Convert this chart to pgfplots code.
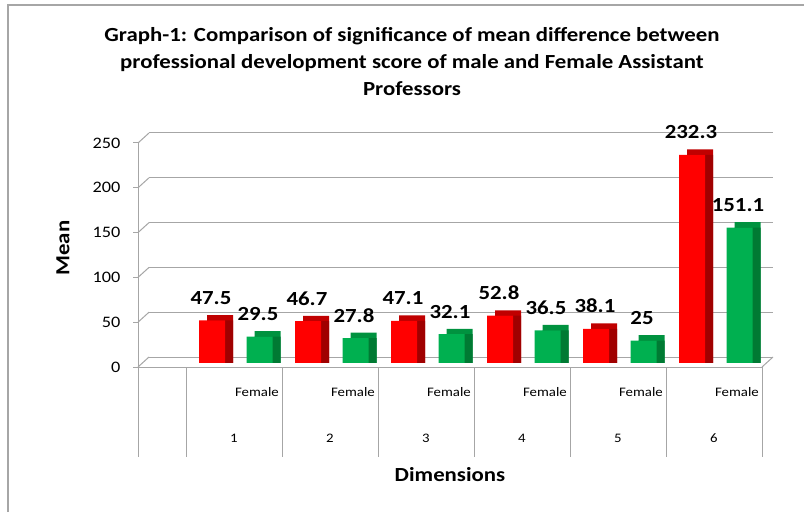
\documentclass[border=0pt]{standalone}
\usepackage{fontspec}
\setmainfont{Carlito}[FakeStretch=1.14]
\usepackage{pgfplots}
\pgfplotsset{compat=1.18}
\usepackage{pgfplotstable}
\definecolor{redF}{HTML}{FF0000}
\definecolor{redT}{HTML}{C00000}
\definecolor{redS}{HTML}{A00000}
\definecolor{grnF}{HTML}{00B050}
\definecolor{grnT}{HTML}{00923F}
\definecolor{grnS}{HTML}{007A33}
\definecolor{gridc}{HTML}{A6A6A6}
\pgfplotstableread{
dim male female
1 47.5 29.5
2 46.7 27.8
3 47.1 32.1
4 52.8 36.5
5 38.1 25
6 232.3 151.1
}\data
\begin{document}
\begin{tikzpicture}[x=1pt,y=1pt]
\useasboundingbox (0,0) rectangle (804,512);
\fill[white] (0,0) rectangle (804,512);
\draw[gridc, line width=1.5pt] (8,0) -- (8,507) -- (804,507);
\node[font=\bfseries\fontsize{20}{20}\selectfont, anchor=base, inner sep=0] at (412,470) {Graph-1: Comparison of significance of mean difference between};
\node[font=\bfseries\fontsize{20}{20}\selectfont, anchor=base, inner sep=0] at (412,443) {professional development score of male and Female Assistant};
\node[font=\bfseries\fontsize{20}{20}\selectfont, anchor=base, inner sep=0] at (412,416) {Professors};
% back wall
\begin{axis}[at={(149pt,155pt)}, anchor=south west, scale only axis,
  width=624pt, height=224pt, xmin=0, xmax=6.5, ymin=0, ymax=250,
  axis line style={draw=none}, xtick=\empty, ytick={0,50,...,250},
  yticklabels={}, major tick length=0pt, ymajorgrids,
  grid style={gridc, line width=1pt}]
\end{axis}
% front
\begin{axis}[at={(138pt,145pt)}, anchor=south west, scale only axis,
  width=624pt, height=224pt, xmin=0, xmax=6.5, ymin=0, ymax=250,
  clip=false, axis x line*=bottom, axis y line*=left,
  axis line style={gridc, line width=1pt, -},
  xtick=\empty, ytick={0,50,...,250}, tick align=outside,
  major tick length=5pt, tick style={gridc, line width=1pt},
  yticklabel style={font=\fontsize{16}{16}\selectfont, xshift=-9pt},
  /pgf/number format/assume math mode=true]
\pgfplotsinvokeforeach{0,50,100,150,200,250}{\draw[gridc, line width=1pt] (axis cs:0,#1) -- ++(11pt,10pt);}
\draw[gridc, line width=1pt] (axis cs:6.5,0) -- ++(11pt,10pt);
\pgfplotsinvokeforeach{0,0.5,1.5,2.5,3.5,4.5,5.5,6.5}{\draw[gridc, line width=1pt] (axis cs:#1,0) -- ++(0pt,-90pt);}
\pgfplotsinvokeforeach{1,2,3,4,5,6}{
  \node[anchor=base, font=\fontsize{13}{13}\selectfont, inner sep=0] at ([yshift=-75pt]axis cs:#1,0) {#1};
  \node[anchor=base east, font=\fontsize{13}{13}\selectfont, inner sep=0] at ([xshift=45pt,yshift=-29pt]axis cs:#1,0) {Female};
}
\end{axis}
% bars at mid depth
\begin{axis}[at={(143pt,149pt)}, anchor=south west, scale only axis,
  width=624pt, height=224pt, xmin=0, xmax=6.5, ymin=0, ymax=250,
  clip=false, hide axis,
  /pgf/number format/assume math mode=true,
  every node near coord/.append style={font=\bfseries\fontsize{20}{20}\selectfont, text=black, anchor=base, inner sep=0pt, yshift=16pt}]
% male shadows
\addplot[ybar, bar width=0.27, bar shift=-0.197, fill=redT, draw=none] table[x=dim, y expr=\thisrow{male}+6] \data;
\addplot[ybar, bar width=0.27, bar shift=-0.197, fill=redS, draw=none] table[x=dim, y=male] \data;
% female shadows
\addplot[ybar, bar width=0.27, bar shift=0.298, fill=grnT, draw=none] table[x=dim, y expr=\thisrow{female}+6] \data;
\addplot[ybar, bar width=0.27, bar shift=0.298, fill=grnS, draw=none] table[x=dim, y=female] \data;
% fronts
\addplot[ybar, bar width=0.27, bar shift=-0.28, fill=redF, draw=none, nodes near coords,
  every node near coord/.append style={xshift=-28pt}] table[x=dim, y=male] \data;
\addplot[ybar, bar width=0.27, bar shift=0.215, fill=grnF, draw=none, nodes near coords,
  every node near coord/.append style={xshift=19pt}] table[x=dim, y=female] \data;
\end{axis}
\node[rotate=90, font=\bfseries\fontsize{20}{20}\selectfont] at (63,264) {Mean};
\node[font=\bfseries\fontsize{20}{20}\selectfont] at (450,37) {Dimensions};
\end{tikzpicture}
\end{document}
